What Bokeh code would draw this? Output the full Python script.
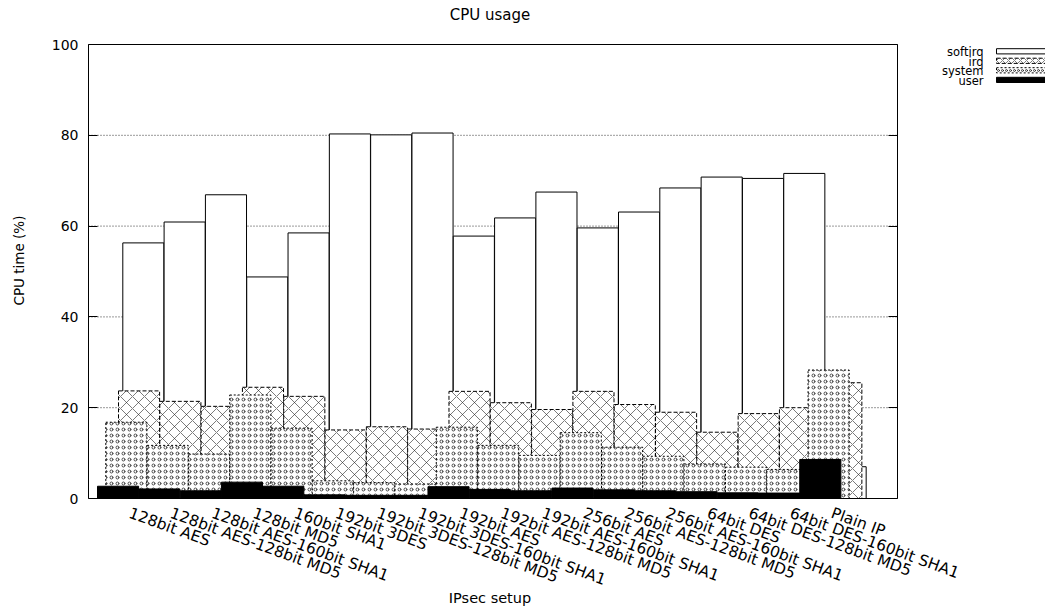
import math
from bokeh.plotting import figure
from bokeh.models import FixedTicker, LinearAxis, Range1d, CustomJSTickFormatter, ColumnDataSource
from bokeh.core.properties import value
from bokeh.embed import file_html
from bokeh.resources import INLINE

# ---- data ----
setups = ["128bit AES", "128bit AES-128bit MD5", "128bit AES-160bit SHA1", "128bit MD5",
          "160bit SHA1", "192bit 3DES", "192bit 3DES-128bit MD5", "192bit 3DES-160bit SHA1",
          "192bit AES", "192bit AES-128bit MD5", "192bit AES-160bit SHA1", "256bit AES",
          "256bit AES-128bit MD5", "256bit AES-160bit SHA1", "64bit DES", "64bit DES-128bit MD5",
          "64bit DES-160bit SHA1", "Plain IP"]
softirq = [56.3, 60.9, 66.9, 48.8, 58.5, 80.3, 80.1, 80.5, 57.8, 61.8, 67.5, 59.6, 63.1, 68.4,
           70.8, 70.5, 71.6, 7.0]
irq = [23.7, 21.4, 20.3, 24.5, 22.5, 15.1, 15.8, 15.3, 23.6, 21.1, 19.6, 23.6, 20.7, 19.0,
       14.6, 18.7, 20.0, 25.5]
system = [16.8, 11.7, 9.8, 22.8, 15.5, 3.9, 3.5, 3.2, 15.7, 11.7, 9.5, 14.5, 11.3, 9.3,
          7.6, 6.9, 6.4, 28.3]
user = [2.7, 2.1, 1.7, 3.6, 2.7, 0.8, 0.7, 0.7, 2.6, 2.0, 1.7, 2.3, 1.9, 1.7,
        1.5, 1.25, 1.2, 8.6]
series_names = ["softirq", "irq", "system", "user"]
y_ticks = [0, 20, 40, 60, 80, 100]
title_text = "CPU usage"
x_title = "IPsec setup"
y_title = "CPU time (%)"

FONT = "DejaVu Sans"

# ---- geometry: the frame covers the whole canvas, the plot box sits inside ----
W, H = 1045, 607
BOX_L, BOX_R = 88, 897           # plot box, pixels
Y0_PX, Y100_PX = 498, 44         # pixel rows of 0 % and 100 %
PXU = (Y0_PX - Y100_PX) / 100.0
UNIT = (BOX_R - BOX_L) / 19.584  # one category step in pixels
TICK0_PX = 129                   # pixel column of the first category tick


def px_x(px):
    return (px - TICK0_PX) / UNIT


def px_y(py):
    return (Y0_PX - py) / PXU


box_l, box_r = px_x(BOX_L), px_x(BOX_R)

p = figure(width=W, height=H, output_backend="svg", toolbar_location=None,
           x_range=Range1d(px_x(0), px_x(W)), y_range=Range1d(px_y(H), px_y(0)),
           min_border=0)
p.outline_line_color = None
p.background_fill_color = "white"
p.border_fill_color = "white"
p.grid.visible = False

# ---- axes, pinned to the plot box ----
xa = p.xaxis[0]
xa.fixed_location = 0
xa.bounds = (box_l, box_r)
xa.ticker = FixedTicker(ticks=list(range(len(setups))))
xa.major_label_overrides = {i: s for i, s in enumerate(setups)}
xa.major_label_orientation = -20 * math.pi / 180
xa.major_tick_in = 0
xa.major_tick_out = 0
xa.minor_tick_line_color = None
xa.major_label_standoff = 14
xa.major_label_text_font = FONT
xa.major_label_text_font_size = "15.5px"
xa.major_label_text_color = "black"
xa.axis_line_color = None

ya = p.yaxis[0]
ya.fixed_location = box_l
ya.bounds = (0, 100)
ya.ticker = FixedTicker(ticks=y_ticks)
ya.major_tick_in = 9
ya.major_tick_out = 0
ya.minor_tick_line_color = None
ya.major_label_standoff = 10
ya.major_label_text_font = FONT
ya.major_label_text_font_size = "14px"
ya.major_label_text_color = "black"
ya.axis_line_color = None

ra = LinearAxis(ticker=FixedTicker(ticks=y_ticks), fixed_location=box_r, bounds=(0, 100),
                formatter=CustomJSTickFormatter(code="return ''"))
ra.major_tick_in = 9
ra.major_tick_out = 0
ra.major_label_standoff = 0
ra.minor_tick_line_color = None
ra.axis_line_color = None
p.add_layout(ra, "right")

# ---- dotted horizontal grid inside the plot box ----
g = y_ticks[1:-1]
p.segment(x0=[box_l] * len(g), x1=[box_r] * len(g), y0=g, y1=g,
          line_color="#333333", line_dash="1 2", line_width=1)

# ---- bars: each series drawn whole, later series cover earlier ones ----
styles = [
    dict(fill_color="white", line_color="black", line_width=1),
    dict(fill_color="white", line_color="black", line_width=1, line_dash="4 2",
         hatch_pattern="diagonal_cross", hatch_scale=12, hatch_weight=0.6,
         hatch_color="#222222"),
    dict(fill_color="white", line_color="black", line_width=1, line_dash="2 2",
         hatch_pattern="ring", hatch_scale=6, hatch_weight=0.8, hatch_color="#222222"),
    dict(fill_color="black", line_color="black", line_width=1),
]
# left edge of each series' bar relative to its category tick (category units)
offsets = [px_x(122.3), px_x(118), px_x(105.3), px_x(97)]

idx = list(range(len(setups)))
for vals, off, style in zip([softirq, irq, system, user], offsets, styles):
    src = ColumnDataSource(dict(left=[i + off for i in idx],
                                right=[i + off + 0.995 for i in idx],
                                top=vals, bottom=[0] * len(vals)))
    p.quad(left="left", right="right", top="top", bottom="bottom", source=src, **style)

# plot box border
p.quad(left=[box_l], right=[box_r], bottom=[0], top=[100], fill_color=None,
       line_color="black", line_width=1)

# ---- titles ----
p.text(x=[px_x(489.5)], y=[px_y(14)], text=[title_text], text_align="center",
       text_baseline="middle", text_font=value(FONT), text_font_size="15px",
       text_color="black")
p.text(x=[px_x(489.5)], y=[px_y(597)], text=[x_title], text_align="center",
       text_baseline="middle", text_font=value(FONT), text_font_size="14.5px",
       text_color="black")
p.text(x=[px_x(18)], y=[px_y(260)], text=[y_title], angle=math.pi / 2,
       text_align="center", text_baseline="middle", text_font=value(FONT),
       text_font_size="13.5px", text_color="black")

# ---- legend (gnuplot style: label right-aligned, sample to the right) ----
leg_rows = [50.8, 60.3, 69.8, 79.4]
leg_styles = [dict(s) for s in styles]
leg_styles[1]["hatch_scale"] = 6
leg_styles[2]["hatch_scale"] = 4
for name, ry, st in zip(series_names, leg_rows, leg_styles):
    p.text(x=[px_x(983)], y=[px_y(ry + 1.0)], text=[name], text_align="right",
           text_baseline="middle", text_font=value(FONT), text_font_size="11.5px",
           text_color="black")
    p.quad(left=[px_x(996)], right=[px_x(1052)], top=[px_y(ry - 2.6)],
           bottom=[px_y(ry + 2.6)], **st)

open("out.html", "w").write(file_html(p, INLINE))
